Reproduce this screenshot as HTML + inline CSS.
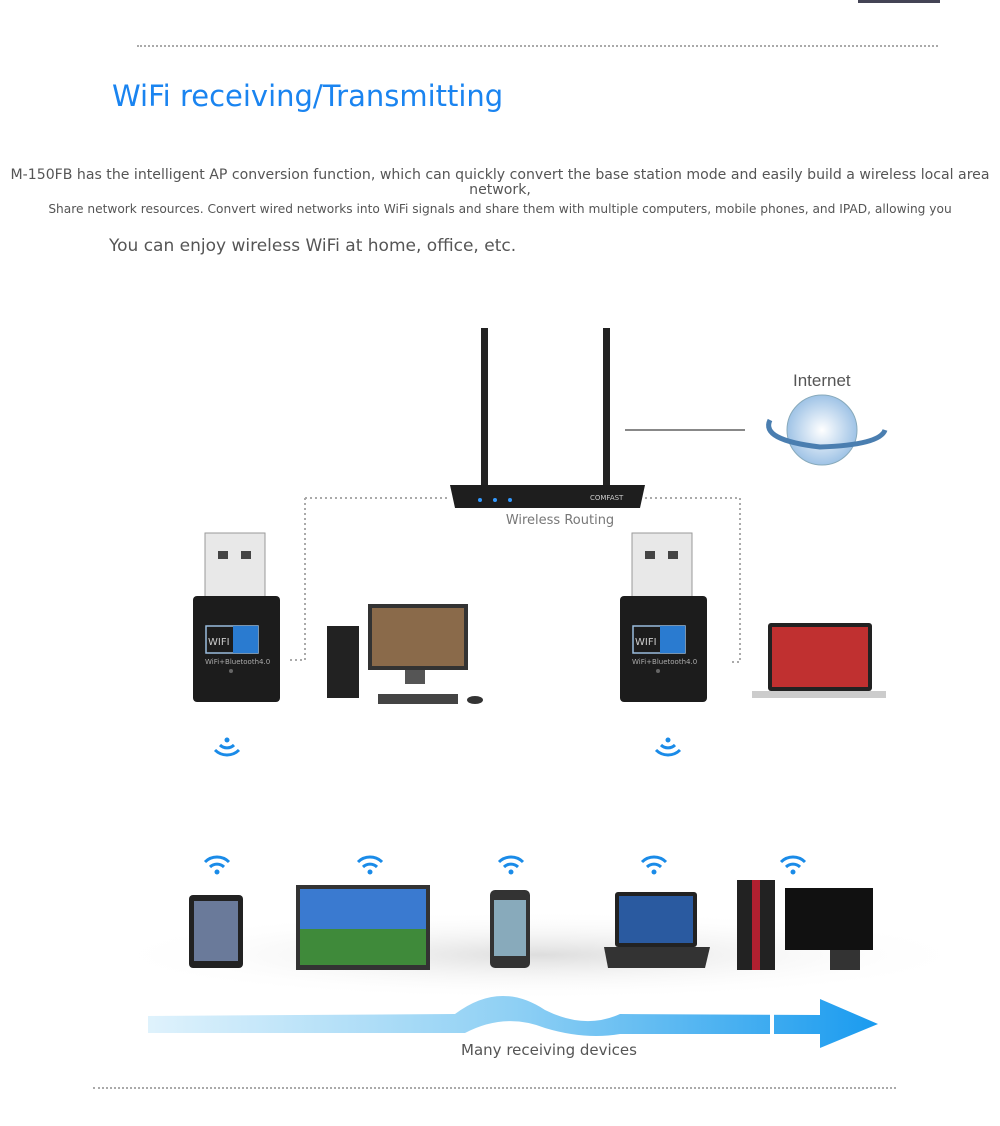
<!DOCTYPE html>
<html><head><meta charset="utf-8"><style>
body{margin:0;width:1000px;height:1126px;background:#fff;position:relative;overflow:hidden;font-family:"DejaVu Sans","Liberation Sans",sans-serif}
.t{position:absolute;white-space:nowrap;color:#555}
.dot{position:absolute;height:0;border-top:2px dotted #aaa}
</style></head><body>
<div style="position:absolute;left:858px;top:0;width:82px;height:3px;background:#445"></div>
<div class="dot" style="left:137px;top:45px;width:801px"></div>
<div class="t" style="left:112px;top:79px;font-size:29px;color:#1a84f0">WiFi receiving/Transmitting</div>
<div class="t" style="left:0;width:1000px;text-align:center;top:168px;font-size:14.1px;line-height:15px;white-space:normal">M-150FB has the intelligent AP conversion function, which can quickly convert the base station mode and easily build a wireless local area network,</div>
<div class="t" style="left:0;width:1000px;text-align:center;top:202px;font-size:12.2px">Share network resources. Convert wired networks into WiFi signals and share them with multiple computers, mobile phones, and IPAD, allowing you</div>
<div class="t" style="left:109px;top:236px;font-size:17px">You can enjoy wireless WiFi at home, office, etc.</div>

<svg width="1000" height="1126" style="position:absolute;left:0;top:0">
<defs>
<linearGradient id="ar" x1="0" x2="1"><stop offset="0" stop-color="#dff2fc"/><stop offset="0.5" stop-color="#8fd0f4"/><stop offset="1" stop-color="#1a9bef"/></linearGradient>
<radialGradient id="gl"><stop offset="0" stop-color="#fff"/><stop offset="1" stop-color="#9fc3e6"/></radialGradient>
<radialGradient id="sh"><stop offset="0" stop-color="#ddd"/><stop offset="1" stop-color="#fff" stop-opacity="0"/></radialGradient>
<g id="wf" fill="#1a8be8"><circle cx="0" cy="0" r="2.5"/><path d="M-7 -5 A10 10 0 0 1 7 -5" stroke="#1a8be8" stroke-width="3" fill="none"/><path d="M-12 -10 A17 17 0 0 1 12 -10" stroke="#1a8be8" stroke-width="3" fill="none"/></g>
<g id="wd" fill="none" stroke="#1a8be8" stroke-width="3"><circle cx="0" cy="-8" r="2.5" fill="#1a8be8" stroke="none"/><path d="M-7 -3 A10 10 0 0 0 7 -3"/><path d="M-12 2 A17 17 0 0 0 12 2"/></g>
<g id="dg">
<rect x="12" y="0" width="60" height="65" fill="#e8e8e8" stroke="#999"/>
<rect x="25" y="18" width="10" height="8" fill="#444"/><rect x="48" y="18" width="10" height="8" fill="#444"/>
<rect x="0" y="63" width="87" height="106" rx="4" fill="#1c1c1c"/>
<rect x="13" y="93" width="52" height="27" fill="none" stroke="#9bd" stroke-width="1.5"/>
<rect x="40" y="93" width="25" height="27" fill="#2a7bd0"/>
<text x="15" y="112" fill="#ccc" font-size="10">WIFI</text>
<text x="12" y="131" fill="#aaa" font-size="7">WiFi+Bluetooth4.0</text>
<circle cx="38" cy="138" r="2" fill="#666"/>
</g>
</defs>
<rect x="481" y="328" width="7" height="162" fill="#222"/>
<rect x="603" y="328" width="7" height="162" fill="#222"/>
<path d="M450 485 L645 485 L640 508 L455 508 Z" fill="#1e1e1e"/>
<text x="590" y="500" fill="#ccc" font-size="7">COMFAST</text>
<circle cx="480" cy="500" r="2" fill="#39f"/><circle cx="495" cy="500" r="2" fill="#39f"/><circle cx="510" cy="500" r="2" fill="#39f"/>
<line x1="625" y1="430" x2="745" y2="430" stroke="#888" stroke-width="2"/>
<text x="793" y="386" fill="#555" font-size="17" font-family="Liberation Sans">Internet</text>
<circle cx="822" cy="430" r="35" fill="url(#gl)" stroke="#8ab" />
<path d="M770 420 Q760 440 820 447 Q880 445 885 430" fill="none" stroke="#4a7eb0" stroke-width="5"/>
<path d="M305 498 H450 M645 498 H740 V662 H730 M305 498 V660 H290" fill="none" stroke="#aaa" stroke-width="2" stroke-dasharray="2 3"/>
<text x="560" y="524" fill="#777" font-size="13" text-anchor="middle">Wireless Routing</text>
<use href="#dg" x="193" y="533"/>
<use href="#dg" x="620" y="533"/>
<rect x="327" y="626" width="32" height="72" fill="#222"/>
<rect x="368" y="604" width="100" height="66" fill="#333"/>
<rect x="372" y="608" width="92" height="58" fill="#8a6a4a"/>
<rect x="405" y="670" width="20" height="14" fill="#555"/>
<rect x="378" y="694" width="80" height="10" fill="#444"/>
<ellipse cx="475" cy="700" rx="8" ry="4" fill="#333"/>
<rect x="768" y="623" width="104" height="68" rx="3" fill="#222"/>
<rect x="772" y="627" width="96" height="60" fill="#c03030"/>
<rect x="752" y="691" width="134" height="7" fill="#ccc"/>
<use href="#wd" x="227" y="748"/><use href="#wd" x="668" y="748"/>
<ellipse cx="540" cy="955" rx="440" ry="45" fill="url(#sh)"/>
<use href="#wf" x="217" y="872"/><use href="#wf" x="370" y="872"/><use href="#wf" x="511" y="872"/><use href="#wf" x="654" y="872"/><use href="#wf" x="793" y="872"/>
<rect x="189" y="895" width="54" height="73" rx="4" fill="#222"/><rect x="194" y="901" width="44" height="60" fill="#6a7a9a"/>
<rect x="296" y="885" width="134" height="85" fill="#333"/><rect x="300" y="889" width="126" height="76" fill="#3f8a3a"/><rect x="300" y="889" width="126" height="40" fill="#3a7ad0"/>
<rect x="490" y="890" width="40" height="78" rx="5" fill="#333"/><rect x="494" y="900" width="32" height="56" fill="#8ab"/>
<rect x="615" y="892" width="82" height="55" rx="3" fill="#222"/><rect x="619" y="896" width="74" height="47" fill="#2a5aa0"/>
<path d="M604 947 H710 L705 968 H608 Z" fill="#333"/>
<rect x="737" y="880" width="38" height="90" fill="#222"/><rect x="752" y="880" width="8" height="90" fill="#b02030"/>
<rect x="785" y="888" width="88" height="62" fill="#111"/><rect x="830" y="950" width="30" height="20" fill="#333"/>
<path d="M148 1016 L455 1014 Q500 980 545 1010 Q585 1030 620 1014 L820 1015 L820 999 L878 1024 L820 1048 L820 1034 L620 1034 Q585 1040 545 1028 Q505 1012 465 1033 L148 1033 Z" fill="url(#ar)"/>
<rect x="770" y="1012" width="4" height="25" fill="#fff"/>
<text x="549" y="1055" fill="#555" font-size="15" text-anchor="middle">Many receiving devices</text>
</svg>
<div class="dot" style="left:93px;top:1087px;width:803px"></div>
</body></html>
